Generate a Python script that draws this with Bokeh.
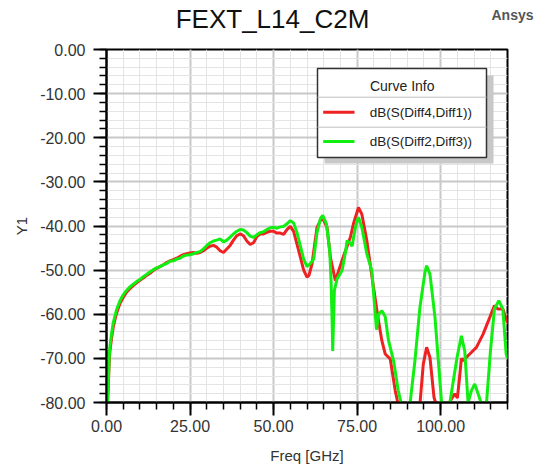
from bokeh.plotting import figure
from bokeh.models import Range1d, FixedTicker, Label
from bokeh.core.properties import value
from bokeh.embed import file_html
from bokeh.resources import INLINE

# ---------------- data ----------------
title_text = "FEXT_L14_C2M"
brand_text = "Ansys"
x_label = "Freq [GHz]"
y_label = "Y1"
legend_title = "Curve Info"
series_names = ["dB(S(Diff4,Diff1))", "dB(S(Diff2,Diff3))"]

x_ticks = [0, 25, 50, 75, 100]
x_tick_labels = ["0.00", "25.00", "50.00", "75.00", "100.00"]
x_minor_ticks = [0, 5, 10, 15, 20, 25, 30, 35, 40, 45, 50, 55, 60,
                 65, 70, 75, 80, 85, 90, 95, 100, 105, 110, 115, 120]
y_ticks = [0, -10, -20, -30, -40, -50, -60, -70, -80]
y_tick_labels = ["0.00", "-10.00", "-20.00", "-30.00", "-40.00",
                 "-50.00", "-60.00", "-70.00", "-80.00"]
y_minor_ticks = [0, -2, -4, -6, -8, -10, -12, -14, -16, -18, -20, -22, -24,
                 -26, -28, -30, -32, -34, -36, -38, -40, -42, -44, -46, -48,
                 -50, -52, -54, -56, -58, -60, -62, -64, -66, -68, -70, -72,
                 -74, -76, -78, -80]

red_freq = [0.3, 0.5, 0.8, 1.0, 1.5, 2.0, 2.5, 3.0, 4.0, 5.0, 6.0, 7.0, 8.0, 9.0,
            10, 11, 12, 13, 14, 15, 16, 17, 18, 19, 20, 21, 22, 23, 24, 25, 26,
            27, 28, 29, 30, 31, 32, 33, 34, 35, 36, 37, 38, 39, 40, 41, 42, 43,
            44, 45, 46, 47, 48, 49, 50, 51, 52, 53, 54, 55, 56, 57, 58, 59, 60.0,
            60.6, 61.5, 63.0, 64.5, 66.0, 67.0, 68.5, 69.5, 71.0, 73.0, 73.9,
            75.4, 76.4, 77.9, 79.9, 81.4, 82.4, 83.4, 84.9, 86.4, 87.3, 89.0,
            92.0, 93.8, 94.8, 95.8, 96.8, 98.0, 98.6, 100.0, 101.5, 103.0,
            104.2, 105.0, 105.7, 106.2, 106.7, 108.7, 110.7, 112.7, 114.7,
            116.1, 117.1, 118.6, 119.8, 120.0]
red_db = [-80, -77, -71, -68.5, -65.5, -63, -61.3, -59.8, -57.6, -56.2, -55.0,
          -54.2, -53.5, -52.9, -52.3, -51.8, -51.2, -50.7, -50.1, -49.6, -49.2,
          -48.8, -48.3, -47.9, -47.6, -47.3, -46.9, -46.5, -46.3, -46.1, -46.0,
          -46.2, -46.0, -45.6, -45.0, -44.6, -44.4, -44.8, -45.6, -46.0, -45.2,
          -44.4, -43.2, -42.2, -41.8, -42.2, -43.4, -44.2, -43.8, -42.4, -41.8,
          -41.8, -41.4, -41.2, -41.2, -41.6, -41.6, -41.9, -40.8, -40.1, -41.2,
          -44.1, -47.0, -50.0, -51.6, -51.2, -48.6, -40.3, -38.0, -40.3, -47.1,
          -52.4, -50.1, -46.7, -42.5, -39.5, -35.8, -37.3, -43.3, -53.9, -61.5,
          -66.0, -69.0, -70.1, -77.3, -80.5, -86.0, -86.0, -80.3, -71.3, -67.5,
          -69.8, -78.8, -80.3, -85.0, -82.0, -79.5, -78.0, -79.0, -74.0, -70.0,
          -70.5, -69.0, -67.5, -64.5, -60.7, -58.0, -58.8, -58.8, -61.5, -62.0]

green_freq = [0.3, 0.5, 0.8, 1.0, 1.5, 2.0, 2.5, 3.0, 4.0, 5.0, 6.0, 7.0, 8.0,
              9.0, 10, 11, 12, 13, 14, 15, 16, 17, 18, 19, 20, 21, 22, 23, 24,
              25, 26, 27, 28, 29, 30, 31, 32, 33, 34, 35, 36, 37, 38, 39, 40,
              41, 42, 43, 44, 45, 46, 47, 48, 49, 50, 51, 52, 53, 54, 55, 56,
              57, 58, 59, 60, 61, 62, 63, 64, 64.7, 65.8, 66.8, 67.2, 67.5,
              67.7, 68.0, 68.2, 69.0, 70.5, 71.5, 72.0, 73.0, 73.5, 74.3, 75.0,
              75.4, 76.4, 77.9, 79.4, 80.0, 80.8, 81.4, 82.4, 83.4, 84.4, 85.9,
              87.3, 88.3, 89.5, 90.8, 92.3, 93.8, 95.3, 95.8, 96.8, 98.3, 99.3,
              100.3, 101.5, 102.7, 104.9, 106.2, 107.2, 108.2, 109.2, 110.2,
              111.2, 112.2, 113.0, 113.7, 114.9, 116.1, 117.4, 118.6, 119.6, 120.0]
green_db = [-80, -76, -70, -67.5, -64.5, -62, -60.5, -59, -57, -55.6, -54.6,
            -53.8, -53.2, -52.6, -52.1, -51.5, -51.0, -50.4, -49.9, -49.5,
            -49.2, -48.8, -48.5, -48.0, -47.9, -47.5, -47.3, -46.8, -46.6,
            -46.5, -46.3, -46.0, -45.8, -45.2, -44.4, -43.8, -43.4, -43.2,
            -42.9, -43.6, -43.2, -42.5, -41.8, -41.2, -40.8, -40.9, -41.5,
            -42.3, -42.6, -42.0, -41.5, -41.3, -40.8, -40.4, -40.3, -40.5,
            -40.2, -40.1, -39.5, -38.8, -39.3, -41.5, -44.5, -47.5, -49.2,
            -48.5, -47.5, -41.5, -38.4, -37.6, -39.5, -45.6, -52.4, -61.0,
            -68.3, -60.0, -54.6, -52.0, -50.1, -46.0, -43.3, -44.0, -44.6,
            -41.0, -38.8, -38.0, -40.3, -46.3, -50.1, -56.0, -63.5, -60.0,
            -59.2, -60.5, -66.0, -70.5, -77.3, -80.5, -84.0, -80.5, -70.5,
            -58.4, -50.5, -49.0, -50.9, -60.7, -70.5, -80.3, -84.0, -80.3,
            -69.8, -64.9, -68.3, -80.0, -77.3, -75.8, -78.0, -80.3, -83.0,
            -80.3, -68.3, -58.8, -56.9, -58.8, -69.0, -70.0]

# ---------------- layout ----------------
W, H = 535, 467
FL, FR, FT, FB = 106, 507, 49, 402   # frame edges in pixels
XMIN, XMAX, YMIN, YMAX = 0, 120, -80, 0
FONT = "Liberation Sans"


def dx(px):
    return XMIN + (px - FL) / (FR - FL) * (XMAX - XMIN)


def dy(py):
    return YMAX - (py - FT) / (FB - FT) * (YMAX - YMIN)


p = figure(width=W, height=H, x_range=Range1d(XMIN, XMAX), y_range=Range1d(YMIN, YMAX),
           output_backend="svg", toolbar_location=None,
           min_border_left=FL, min_border_right=W - FR,
           min_border_top=FT, min_border_bottom=H - FB)
p.background_fill_color = "white"
p.border_fill_color = "white"
p.outline_line_color = "black"
p.outline_line_width = 2
p.title.visible = False

# title and brand as labels in the top border panel (not clipped there)
p.add_layout(Label(x=dx(272), y=dy(18), text=title_text, text_font=FONT,
                   text_font_size="26px", text_color="#111111", text_align="center",
                   text_baseline="alphabetic"), "above")
p.add_layout(Label(x=dx(533), y=dy(14), text=brand_text, text_font=FONT,
                   text_font_size="14px", text_font_style="bold", text_color="#555555",
                   text_align="right", text_baseline="alphabetic"), "above")

xt = FixedTicker(ticks=x_ticks, minor_ticks=x_minor_ticks)
yt = FixedTicker(ticks=y_ticks, minor_ticks=y_minor_ticks)
p.xaxis.ticker = xt
p.yaxis.ticker = yt
p.xgrid.ticker = xt
p.ygrid.ticker = yt
p.xaxis.major_label_overrides = dict(zip(x_ticks, x_tick_labels))
p.yaxis.major_label_overrides = dict(zip(y_ticks, y_tick_labels))

for ax in (p.xaxis[0], p.yaxis[0]):
    ax.axis_line_color = "black"
    ax.axis_line_width = 2
    ax.major_tick_line_color = "black"
    ax.major_tick_line_width = 2
    ax.minor_tick_line_color = "black"
    ax.minor_tick_line_width = 1.5
    ax.major_tick_in = 0
    ax.major_tick_out = 13
    ax.minor_tick_in = 0
    ax.minor_tick_out = 7
    ax.major_label_text_font = FONT
    ax.major_label_text_font_size = "16px"
    ax.major_label_text_color = "#333333"
    ax.axis_label_text_font = FONT
    ax.axis_label_text_font_size = "15px"
    ax.axis_label_text_font_style = "normal"
    ax.axis_label_text_color = "#333333"
p.xaxis.major_label_standoff = 4
p.yaxis.major_label_standoff = 8
p.xaxis.axis_label = x_label
p.yaxis.axis_label = y_label
p.xaxis.axis_label_standoff = 12
p.yaxis.axis_label_standoff = 7

for g in (p.xgrid[0], p.ygrid[0]):
    g.grid_line_color = "#c8c8c8"
    g.grid_line_width = 2
    g.minor_grid_line_color = "#e4e4e4"
    g.minor_grid_line_width = 1

# curves
red = "#ee2222"
green = "#11ee11"
p.line(red_freq, red_db, line_color=red, line_width=3)
p.line(green_freq, green_db, line_color=green, line_width=3)

# legend box ("Curve Info")
bl, br, bt, bb = 317, 486, 68, 157
p.quad(left=[dx(bl + 7)], right=[dx(br + 7)], top=[dy(bt + 7)], bottom=[dy(bb + 6)],
       fill_color="#c8c8c8", line_color=None)
p.quad(left=[dx(bl)], right=[dx(br)], top=[dy(bt)], bottom=[dy(bb)],
       fill_color="white", line_color="#333333", line_width=1.5)
sep_y = [96.7, 126.7]
p.segment(x0=[dx(bl)] * 2, x1=[dx(br)] * 2, y0=[dy(v) for v in sep_y],
          y1=[dy(v) for v in sep_y], line_color="#c0c0c0", line_width=1)
p.text(x=[dx(401.7)], y=[dy(85)], text=[legend_title], text_font=value(FONT),
       text_font_size="14px", text_color="#222222", text_align="center",
       text_baseline="middle")
row_y = [111.7, 141]
p.segment(x0=[dx(322.7)] * 2, x1=[dx(354)] * 2, y0=[dy(v) for v in row_y],
          y1=[dy(v) for v in row_y], line_color=[red, green], line_width=3)
p.text(x=[dx(369.3)] * 2, y=[dy(v) for v in row_y], text=series_names,
       text_font=value(FONT), text_font_size="13.5px", text_color="#222222",
       text_align="left", text_baseline="middle")

open("out.html", "w").write(file_html(p, INLINE))
